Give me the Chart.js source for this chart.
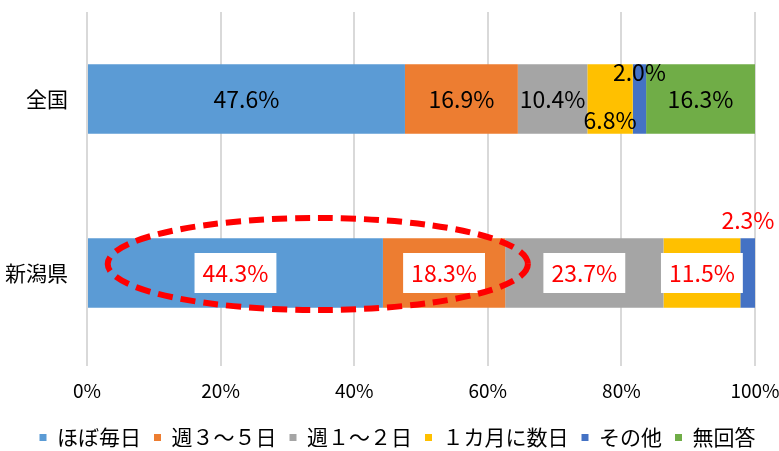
<!DOCTYPE html>
<html>
<head>
<meta charset="utf-8">
<script src="https://cdn.jsdelivr.net/npm/chart.js@4/dist/chart.umd.min.js"></script>
<style>
  html, body { margin: 0; padding: 0; background: #fff; }
  #wrap { width: 779px; height: 451px; }
</style>
</head>
<body>
<div id="wrap"><canvas id="chart"></canvas></div>
<script>
// categories and series (percent)
const regions = ['全国', '新潟県'];
const seriesNames = ['ほぼ毎日', '週３～５日', '週１～２日', '１カ月に数日', 'その他', '無回答'];
const almostDaily = [47.6, 44.3];
const threeToFive = [16.9, 18.3];
const oneToTwo = [10.4, 23.7];
const fewPerMonth = [6.8, 11.5];
const otherAns = [2.0, 2.3];
const noAnswer = [16.3, 0];
const xTicks = [0, 20, 40, 60, 80, 100];

const colors = ['#5B9BD5', '#ED7D31', '#A5A5A5', '#FFC000', '#4472C4', '#70AD47'];
const FONT = '"Noto Sans CJK JP", "Noto Sans", sans-serif';

// value labels + the dashed red ellipse around the 新潟県 top two segments
const labelPlugin = {
  id: 'labels',
  beforeLayout(chart) {
    // keep the legend strip short so it sits near the bottom edge
    const lg = chart.legend;
    if (lg && !lg._patched) {
      const fit = lg.fit;
      lg.fit = function () { fit.call(this); this.height = 37; };
      lg._patched = true;
    }
  },
  afterLayout(chart) {
    // nudge legend a bit to the right like the original
    if (chart.legend) {
      chart.legend.left += 8;
      chart.legend.right += 8;
    }
  },
  afterDatasetsDraw(chart) {
    const ctx = chart.ctx;
    const xs = chart.scales.x;
    const ys = chart.scales.y;

    ctx.save();
    ctx.font = '23px ' + FONT;
    ctx.textAlign = 'center';
    ctx.textBaseline = 'middle';
    chart.data.datasets.forEach((ds, di) => {
      const meta = chart.getDatasetMeta(di);
      meta.data.forEach((bar, i) => {
        const v = ds.data[i];
        if (!v) return;
        const txt = v.toFixed(1) + '%';
        let cx = (bar.x + bar.base) / 2;
        let cy = bar.y;
        if (i === 0) {
          // small segments in 全国 get nudged up / down
          if (di === 4) cy -= 27;
          if (di === 3) cy += 21;
          ctx.fillStyle = '#000';
          ctx.fillText(txt, cx, cy);
        } else {
          if (di === 4) {
            cy -= 53;
            ctx.fillStyle = '#FF0000';
            ctx.fillText(txt, cx, cy);
            return;
          }
          const w = ctx.measureText(txt).width + 16;
          ctx.fillStyle = '#fff';
          ctx.fillRect(cx - w / 2, cy - 20, w, 40);
          ctx.fillStyle = '#FF0000';
          ctx.fillText(txt, cx, cy);
        }
      });
    });

    // ellipse annotation
    const left = xs.getPixelForValue(3.1);
    const right = xs.getPixelForValue(66.0);
    const cy = ys.getPixelForValue(1) - 9;
    ctx.beginPath();
    ctx.ellipse((left + right) / 2, cy, (right - left) / 2, 46, 0, 0, Math.PI * 2);
    ctx.setLineDash([15, 8]);
    ctx.lineWidth = 6;
    ctx.strokeStyle = '#FF0000';
    ctx.stroke();
    ctx.restore();
  }
};

const allSeries = [almostDaily, threeToFive, oneToTwo, fewPerMonth, otherAns, noAnswer];

new Chart(document.getElementById('chart'), {
  type: 'bar',
  data: {
    labels: regions,
    datasets: allSeries.map((d, k) => ({
      label: seriesNames[k],
      data: d,
      backgroundColor: colors[k],
      borderWidth: 0,
      barPercentage: 0.4,
      categoryPercentage: 1.0
    }))
  },
  options: {
    indexAxis: 'y',
    responsive: true,
    maintainAspectRatio: false,
    animation: false,
    layout: { padding: { left: 0, right: 0, top: 12, bottom: 0 } },
    scales: {
      x: {
        stacked: true,
        min: 0,
        max: 100,
        afterBuildTicks(axis) {
          axis.ticks = xTicks.map(v => ({ value: v }));
        },
        afterFit(axis) {
          axis.height = 54;
          axis.paddingLeft = 0;
          axis.paddingRight = 24;
        },
        grid: { color: '#D9D9D9', lineWidth: 2, tickLength: 6, drawTicks: true },
        border: { display: false },
        ticks: {
          padding: 13,
          color: '#000',
          font: { family: FONT, size: 19 },
          callback: v => v + '%'
        }
      },
      y: {
        stacked: true,
        afterFit(axis) {
          axis.width = 87;
          axis.paddingTop = 0;
          axis.paddingBottom = 0;
        },
        grid: { display: false, drawTicks: false },
        border: { display: false },
        ticks: {
          padding: 19,
          color: '#000',
          font: { family: FONT, size: 21 }
        }
      }
    },
    plugins: {
      legend: {
        position: 'bottom',
        labels: {
          boxWidth: 7,
          boxHeight: 7,
          padding: 13,
          color: '#000',
          font: { family: FONT, size: 21 }
        }
      },
      tooltip: { enabled: false }
    }
  },
  plugins: [labelPlugin]
});
</script>
</body>
</html>
